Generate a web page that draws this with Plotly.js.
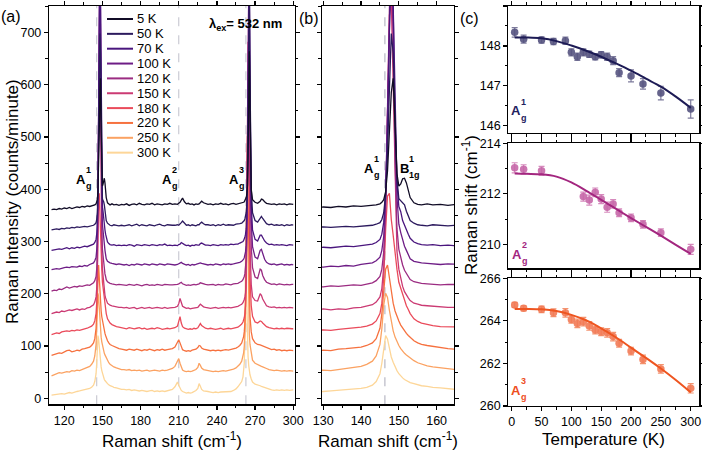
<!DOCTYPE html>
<html><head><meta charset="utf-8">
<script src="https://cdn.plot.ly/plotly-3.0.1.min.js"></script>
<style>html,body{margin:0;padding:0;background:#fff}#chart{width:702px;height:451px}</style>
</head><body><div id="chart"></div>
<script>
// ---------- Panel (a)/(b) spectra: Raman shift grid (cm^-1) ----------
const shift = [
 110,112,114,116,118,120,122,124,126,128,130,132,134,136,138,140,141.5,
 143,144,145,145.5,146,146.5,147,147.5,148,148.5,149,149.5,150,150.5,151,151.5,152,152.5,153,154,155,156,157.5,159,161,163,165,
 167,169,171,173,175,177,179,181,183,185,187,189,191,193,195,197,199,201,203,205,
 207,209,210,211,212,213,214.5,216,217.5,219,220.5,222,223.5,225,226,227,228,229.5,231,233,
 235,237,239,241,243,245,247,249,251,253,255,256.5,
 258,259.5,260.5,261,261.5,262,262.5,263,263.5,264,264.5,265,265.5,266,267,268,
 270,272,274,275,276,277.5,279,281,283,285,287,289,291,293,295,297,299,300
];
const temps = ['5 K','50 K','70 K','100 K','120 K','150 K','180 K','220 K','250 K','300 K'];
const offsets = [360,320,282,245,205,162,122,82,43,5];

const I5 = [1,2,1,3,2,4,3,5,3,5,6,5,7,6,8,7,8,
 9,10,12,15,20,35,75,150,225,252,150,70,46,50,60,61,52,38,24,14,11,10,12,10,11,9,11,
 10,12,9,11,12,10,13,11,10,12,11,13,10,12,11,10,12,11,13,11,
 12,11,13,15,19,23,16,12,13,11,12,10,12,11,12,14,17,14,12,11,
 12,10,12,11,13,11,12,10,12,13,11,12,
 12,13,14,15,16,18,20,24,30,45,100,220,304,200,40,20,
 15,13,17,21,20,16,13,12,11,12,10,12,11,12,10,12,11,11];
const I50 = [2,3,4,3,5,4,6,5,7,6,8,7,8,9,8,9,10,
 11,13,16,22,35,70,150,270,378,340,200,100,62,58,56,50,38,28,20,15,12,11,10,12,11,10,11,
 10,11,12,10,11,13,10,12,11,10,12,11,10,12,13,11,10,12,11,11,
 11,12,11,13,16,19,14,11,12,10,12,11,10,12,12,15,17,14,12,12,
 11,12,10,12,11,13,11,12,12,11,13,13,
 14,15,17,18,20,23,27,35,50,90,200,380,470,300,80,35,
 20,17,25,28,24,18,14,12,13,11,12,11,12,10,12,11,12,11];
const I70 = [1,2,3,4,3,5,6,4,6,5,7,6,8,9,8,10,11,
 13,16,22,32,55,110,230,420,560,470,260,130,85,75,58,48,40,32,24,17,14,12,11,12,10,11,10,
 11,10,12,11,9,12,11,10,12,11,10,12,11,10,12,11,13,10,11,10,
 11,10,12,13,16,14,12,10,11,9,11,10,12,11,11,14,15,13,11,11,
 10,12,11,10,12,11,12,11,13,12,13,13,
 15,16,18,20,22,26,32,42,65,130,290,490,520,320,90,40,
 22,19,30,30,25,19,15,12,13,11,12,11,12,11,10,12,11,11];
const I100 = [1,2,3,2,4,5,6,5,7,6,6,8,7,9,8,11,12,
 14,18,25,38,65,140,290,480,620,500,270,140,88,72,56,46,38,30,22,17,15,14,13,12,11,12,11,
 10,11,9,11,10,12,11,10,12,11,10,12,11,10,12,11,10,12,11,11,
 10,11,12,13,15,13,12,10,11,9,11,10,11,12,12,14,13,12,11,10,
 11,10,12,11,10,12,11,12,11,12,13,13,
 15,17,19,21,24,28,35,48,80,170,350,540,520,300,95,45,
 25,22,38,40,30,21,15,12,11,12,10,11,12,10,11,10,11,10];
const I120 = [0,2,1,4,3,5,8,6,7,9,8,10,9,11,12,11,13,
 16,20,28,42,75,160,330,540,640,480,250,120,80,64,50,40,33,28,22,18,16,15,14,13,12,13,12,
 12,11,13,12,11,13,12,10,12,13,11,12,11,13,12,11,13,12,12,12,
 12,13,14,16,17,14,13,11,12,11,12,13,12,13,14,16,15,14,13,12,
 12,13,11,13,12,12,14,13,12,14,14,15,
 17,19,22,24,28,33,42,60,100,210,420,560,480,260,85,45,
 27,24,42,40,30,22,17,15,13,14,12,14,13,12,13,12,13,13];
const I150 = [0,2,3,2,5,4,6,7,6,8,9,7,9,8,11,12,14,
 17,22,32,48,90,190,380,570,600,430,230,120,85,68,52,42,35,30,25,20,18,16,15,14,13,12,12,
 11,12,10,11,12,9,11,12,10,11,12,10,11,12,11,10,12,10,11,11,
 12,14,19,29,20,14,12,10,11,9,10,11,12,12,15,18,16,13,12,11,
 10,11,12,10,11,12,11,12,11,12,13,14,
 16,18,21,23,27,32,40,70,150,350,520,430,250,130,55,32,
 25,24,38,35,28,21,15,13,12,13,11,12,11,12,11,12,11,11];
const I180 = [0,2,3,2,5,6,7,6,8,7,9,8,10,11,12,14,16,
 20,26,40,60,110,200,265,270,220,190,150,125,100,88,75,65,55,48,40,30,25,22,19,17,15,14,13,
 12,11,13,12,11,12,13,11,12,10,11,12,11,13,12,10,11,12,11,12,
 13,16,24,34,22,15,12,11,10,11,10,12,11,13,17,21,17,14,12,11,
 12,11,10,11,12,10,11,12,11,12,13,14,
 17,20,24,27,32,40,55,90,200,430,480,330,190,110,55,35,
 24,22,26,25,22,18,15,13,12,11,12,11,12,11,12,11,11,11];
const I220 = [0,2,4,5,4,7,9,10,7,8,10,9,12,13,14,16,19,
 24,32,52,80,130,165,173,150,120,100,85,74,66,58,52,46,42,38,34,28,24,21,19,17,15,13,12,
 11,10,12,11,10,12,10,9,11,10,12,10,9,11,10,12,10,11,12,13,
 16,24,30,24,15,11,9,8,9,8,10,11,12,15,19,18,14,12,11,10,
 9,10,9,10,9,10,11,10,11,12,14,16,
 19,24,30,36,45,62,100,200,380,420,300,180,110,75,45,32,
 24,21,20,19,18,16,14,12,11,12,10,11,9,10,9,10,10,9];
const I250 = [0,2,4,6,5,7,8,7,10,9,11,10,12,13,15,18,22,
 28,38,60,90,135,158,150,125,102,86,74,65,58,52,47,43,40,37,34,29,25,22,19,17,15,13,12,
 12,11,12,10,11,10,11,9,10,11,9,10,11,10,9,11,10,11,12,14,
 18,28,33,24,15,11,9,8,9,8,9,10,12,16,24,20,15,12,11,10,
 9,8,9,8,9,10,9,10,11,13,15,18,
 22,28,36,44,56,80,140,260,360,300,190,120,80,60,40,30,
 24,21,19,18,17,16,14,12,11,10,11,10,9,10,9,10,9,9];
const I300 = [1,2,2,3,4,3,5,6,5,7,8,9,10,11,12,14,16,
 20,27,42,62,95,115,108,90,74,64,55,48,42,37,34,31,29,27,25,23,21,19,18,16,15,13,12,
 12,11,12,10,11,10,9,10,9,8,9,10,8,9,8,9,8,9,10,12,
 17,26,20,13,10,8,6,5,6,5,6,8,10,14,23,18,12,9,8,8,
 7,6,7,6,7,7,8,7,8,10,13,17,
 21,27,36,45,62,120,280,230,150,100,75,58,48,40,32,26,
 22,21,19,18,17,16,14,12,11,10,11,10,11,10,11,10,11,11];

// ---------- Panel (c): peak positions vs temperature ----------
const tA1 = [5,20,50,70,90,100,110,120,130,140,150,160,170,180,200,220,250,300];
const wA1 = [148.34,148.17,148.15,148.11,148.13,147.84,147.73,147.84,147.79,147.73,147.78,147.73,147.63,147.33,147.25,147.05,146.82,146.42];
const eA1 = [0.12,0.1,0.08,0.08,0.09,0.09,0.09,0.09,0.08,0.08,0.08,0.09,0.1,0.1,0.15,0.13,0.17,0.23];
const tA2 = [5,20,50,120,130,140,150,160,170,180,200,220,250,300];
const wA2 = [213.03,212.97,212.91,211.89,211.75,212.06,211.79,211.47,211.6,211.25,211.05,210.79,210.46,209.8];
const eA2 = [0.2,0.18,0.18,0.18,0.2,0.17,0.18,0.2,0.17,0.15,0.15,0.15,0.15,0.2];
const tA3 = [5,20,50,70,90,100,110,120,130,140,150,160,170,180,200,220,250,300];
const wA3 = [264.75,264.59,264.54,264.38,264.38,264.07,263.88,263.96,263.76,263.57,263.49,263.44,263.26,262.95,262.58,262.19,261.74,260.83];
const eA3 = [0.12,0.12,0.15,0.18,0.2,0.18,0.2,0.2,0.2,0.18,0.18,0.2,0.2,0.18,0.18,0.2,0.2,0.22];
const tFit = [5,25,50,75,100,125,150,175,200,225,250,275,300];
const fitA1 = [148.21,148.21,148.19,148.12,148.01,147.88,147.73,147.56,147.38,147.18,146.98,146.73,146.45];
const fitA2 = [212.8,212.79,212.77,212.68,212.45,212.12,211.76,211.4,211.04,210.69,210.34,209.98,209.62];
const fitA3 = [264.56,264.56,264.54,264.46,264.28,264.02,263.65,263.22,262.74,262.26,261.76,261.22,260.64];

// ---------- styling ----------
const spectra = [I5,I50,I70,I100,I120,I150,I180,I220,I250,I300];
const colors = ['#110c26','#2c1a5e','#4a167e','#6e1d86','#9b2c82','#cb3a73','#ea4b5b','#f6713f','#fba262','#fdd698'];
const FONT = 'Arial, "Liberation Sans", sans-serif';
const W = 702, H = 451;
const px = v => v / W, py = v => 1 - v / H;

const traces = [];
for (let i = spectra.length - 1; i >= 0; i--) {
  const y = spectra[i].map(v => v + offsets[i]);
  for (const [xa, ya] of [['x','y'],['x2','y2']]) {
    traces.push({x: shift, y: y, xaxis: xa, yaxis: ya, type: 'scatter', mode: 'lines',
      line: {color: colors[i], width: 1.3}, showlegend: false, hoverinfo: 'skip'});
  }
}
const cSets = [
  {t: tA1, w: wA1, e: eA1, fit: fitA1, ax: ['x3','y3'], mk: '#55537f', eb: '#7d7b9c', ln: '#1d1b55'},
  {t: tA2, w: wA2, e: eA2, fit: fitA2, ax: ['x4','y4'], mk: '#c767a8', eb: '#d68abd', ln: '#a3267f'},
  {t: tA3, w: wA3, e: eA3, fit: fitA3, ax: ['x5','y5'], mk: '#f27a55', eb: '#f39470', ln: '#ee5520'}
];
for (const s of cSets) {
  traces.push({x: s.t, y: s.w, xaxis: s.ax[0], yaxis: s.ax[1], type: 'scatter', mode: 'markers',
    marker: {color: s.mk, size: 7.5, opacity: 0.9},
    error_y: {type: 'data', array: s.e, visible: true, color: s.eb, thickness: 1.2, width: 3},
    showlegend: false, hoverinfo: 'skip'});
  traces.push({x: tFit, y: s.fit, xaxis: s.ax[0], yaxis: s.ax[1], type: 'scatter', mode: 'lines',
    line: {color: s.ln, width: 2, shape: 'spline', smoothing: 1}, showlegend: false, hoverinfo: 'skip'});
}

const base = {showline: true, linecolor: '#000', linewidth: 1.2, mirror: 'ticks', ticks: 'outside',
  ticklen: 4, tickwidth: 1.2, tickcolor: '#000', showgrid: false, zeroline: false,
  tickfont: {family: FONT, size: 12.5, color: '#000'}};
const ax = (o, minorD) => Object.assign({}, base, o,
  {minor: {dtick: minorD, ticks: 'outside', ticklen: 2.5, tickwidth: 1, tickcolor: '#000'}});

const yA = [py(404.3), py(6)];
const xC = [px(508.3), px(699.3)];
const layout = {
  width: W, height: H, margin: {l: 0, r: 0, t: 0, b: 0},
  paper_bgcolor: '#fff', plot_bgcolor: '#fff', showlegend: false,
  font: {family: FONT, color: '#000'},
  xaxis: ax({domain: [px(49), px(294.5)], range: [108, 301], tick0: 120, dtick: 30, anchor: 'y'}, 15),
  yaxis: ax({domain: yA, range: [-11.5, 750.5], dtick: 100, anchor: 'x'}, 50),
  xaxis2: ax({domain: [px(322), px(454)], range: [129.66, 164.6], tick0: 130, dtick: 10, anchor: 'y2'}, 5),
  yaxis2: ax({domain: yA, range: [-11.5, 750.5], dtick: 100, showticklabels: false, anchor: 'x2'}, 50),
  xaxis3: ax({domain: xC, range: [-5.7, 314.4], dtick: 50, showticklabels: false, anchor: 'y3'}, 25),
  yaxis3: ax({domain: [py(133), py(6)], range: [145.82, 149], dtick: 1, anchor: 'x3'}, 0.5),
  xaxis4: ax({domain: xC, range: [-5.7, 314.4], dtick: 50, showticklabels: false, anchor: 'y4'}, 25),
  yaxis4: ax({domain: [py(268.3), py(143.3)], range: [209.05, 214], dtick: 2, anchor: 'x4'}, 1),
  xaxis5: ax({domain: xC, range: [-5.7, 314.4], dtick: 50, anchor: 'y5'}, 25),
  yaxis5: ax({domain: [py(406), py(278.3)], range: [260, 266], dtick: 2, anchor: 'x5'}, 1),
  shapes: [], annotations: []
};

// dashed guide lines
const dashA = [145.5, 210, 262.8];
for (const d of dashA) layout.shapes.push({type: 'line', xref: 'x', yref: 'y domain', x0: d, x1: d, y0: 0, y1: 1,
  line: {color: '#c6c6d0', width: 1.1, dash: 'dash'}, layer: 'below'});
layout.shapes.push({type: 'line', xref: 'x2', yref: 'y2 domain', x0: 146.3, x1: 146.3, y0: 0, y1: 1,
  line: {color: '#c6c6d0', width: 1.5, dash: 'dash'}, layer: 'below'});

// manual legend
temps.forEach((t, k) => {
  const yy = 19 + k * 14.85;
  layout.shapes.push({type: 'line', xref: 'paper', yref: 'paper', x0: px(107), x1: px(133), y0: py(yy), y1: py(yy),
    line: {color: colors[k], width: 2}});
  layout.annotations.push({xref: 'paper', yref: 'paper', x: px(135), y: py(yy), xanchor: 'left', yanchor: 'middle',
    text: t, showarrow: false, font: {family: FONT, size: 13, color: '#000'}});
});

function note(x, y, text, size, opts) {
  layout.annotations.push(Object.assign({xref: 'paper', yref: 'paper', x: px(x), y: py(y), xanchor: 'center', yanchor: 'middle',
    text: text, showarrow: false, font: {family: FONT, size: size, color: '#000'}}, opts || {}));
}
function mode(xj, yc, main, sup, sub, color) {
  note(xj, yc, '<b>' + main + '</b>', 13, {xanchor: 'right', xshift: 2, font: {family: FONT, size: 13, color: color}});
  note(xj, yc - 9, '<b>' + sup + '</b>', 9, {xanchor: 'left', xshift: -2, font: {family: FONT, size: 9, color: color}});
  note(xj, yc + 7, '<b>' + sub + '</b>', 9, {xanchor: 'left', xshift: -2, font: {family: FONT, size: 9, color: color}});
}
mode(86, 179, 'A', '1', 'g', '#000');
mode(172, 179, 'A', '2', 'g', '#000');
mode(239, 179, 'A', '3', 'g', '#000');
mode(374, 168, 'A', '1', 'g', '#000');
mode(409, 168, 'B', '1', '1g', '#000');
mode(521, 111, 'A', '1', 'g', '#23215e');
mode(522, 254, 'A', '2', 'g', '#a3267f');
mode(521, 390, 'A', '3', 'g', '#ee4e1e');

note(245, 24, '<b>λ<sub>ex</sub>= 532 nm</b>', 13);
note(11, 16, '(a)', 16);
note(309, 18, '(b)', 16);
note(469, 19, '(c)', 16);
note(172, 440, 'Raman shift (cm<sup>-1</sup>)', 17);
note(388, 440, 'Raman shift (cm<sup>-1</sup>)', 17);
note(603, 439, 'Temperature (K)', 17);
note(12, 202, 'Raman Intensity (counts/minute)', 17, {textangle: -90});
note(470, 205, 'Raman shift (cm<sup>-1</sup>)', 17, {textangle: -90});

// length guard (debug)
const bad = spectra.map((s, i) => s.length !== shift.length ? temps[i] + ':' + s.length : null).filter(Boolean);
if (bad.length) note(350, 225, 'LEN ERR ' + shift.length + ' ' + bad.join(' '), 14, {font: {size: 14, color: 'red'}});

Plotly.newPlot('chart', traces, layout, {displayModeBar: false, staticPlot: true});
</script></body></html>
